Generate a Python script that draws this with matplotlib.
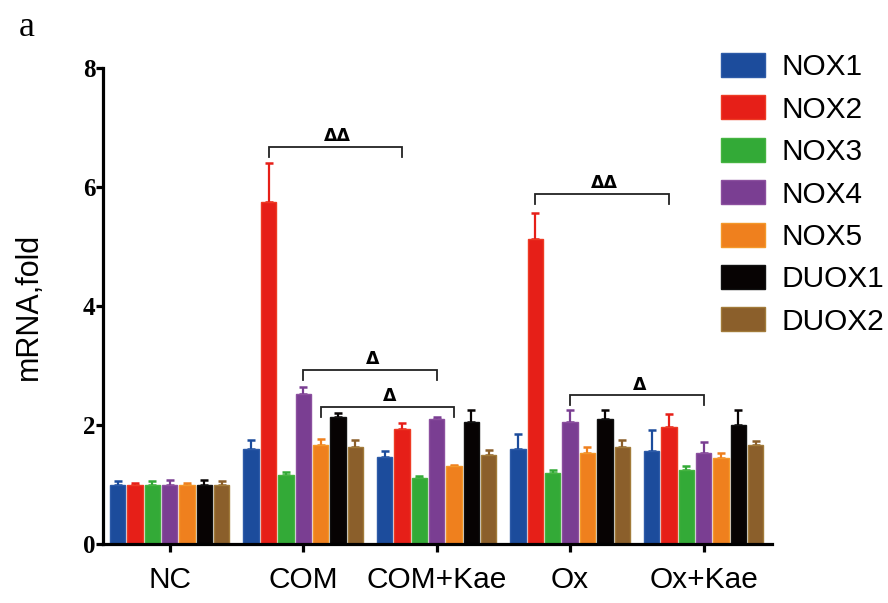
#!/usr/bin/env python3

import numpy as np
import matplotlib
matplotlib.use("Agg")
import matplotlib.pyplot as plt
from matplotlib.patches import Patch


######################## data ##############################

groups = ["NC", "COM", "COM+Kae", "Ox", "Ox+Kae"]
genes = ["NOX1", "NOX2", "NOX3", "NOX4", "NOX5", "DUOX1", "DUOX2"]

nox1 = [1.00, 1.60, 1.47, 1.60, 1.57]
nox2 = [1.00, 5.74, 1.93, 5.12, 1.96]
nox3 = [1.00, 1.16, 1.12, 1.20, 1.24]
nox4 = [1.00, 2.53, 2.10, 2.06, 1.54]
nox5 = [1.00, 1.66, 1.31, 1.54, 1.44]
duox1 = [1.00, 2.13, 2.06, 2.10, 2.00]
duox2 = [1.00, 1.64, 1.49, 1.64, 1.66]

nox1_err = [0.06, 0.15, 0.09, 0.25, 0.35]
nox2_err = [0.03, 0.66, 0.10, 0.45, 0.23]
nox3_err = [0.06, 0.05, 0.02, 0.05, 0.07]
nox4_err = [0.07, 0.11, 0.04, 0.19, 0.18]
nox5_err = [0.02, 0.11, 0.02, 0.10, 0.10]
duox1_err = [0.07, 0.07, 0.20, 0.15, 0.25]
duox2_err = [0.06, 0.11, 0.10, 0.11, 0.07]

means = [nox1, nox2, nox3, nox4, nox5, duox1, duox2]
errs = [nox1_err, nox2_err, nox3_err, nox4_err, nox5_err, duox1_err, duox2_err]

# significance brackets: (group a, group b, gene index, bracket height, label)
brackets = [
    (1, 2, 1, 6.67, "ΔΔ"),
    (1, 2, 3, 2.93, "Δ"),
    (1, 2, 4, 2.31, "Δ"),
    (3, 4, 1, 5.88, "ΔΔ"),
    (3, 4, 3, 2.50, "Δ"),
]


######################## style ##############################

face = ["#1c4c9c", "#e61f18", "#33aa37", "#7a3e92", "#ef801e", "#070303", "#8b5f2b"]
edge = ["#2d5ba8", "#ee3b24", "#45b441", "#8c509f", "#f4982a", "#111111", "#a27b3a"]

pitch = 0.13
width = 0.115

fig = plt.figure(figsize=(8.88, 6.03), dpi=100)
ax = fig.add_axes([0.116, 0.0975, 0.753, 0.79])

x = np.arange(len(groups))
for i in range(len(genes)):
    pos = x + (i - 3) * pitch
    ax.bar(pos, means[i], width, color=face[i], edgecolor=edge[i], linewidth=1.0,
           zorder=2)
    ax.errorbar(pos, means[i], yerr=[np.zeros(len(groups)), errs[i]], fmt="none",
                ecolor=face[i], elinewidth=1.6, capsize=3.2, capthick=1.8, zorder=1)

for ga, gb, gi, h, lab in brackets:
    xa = ga + (gi - 3) * pitch
    xb = gb + (gi - 3) * pitch
    ax.plot([xa, xa, xb, xb], [h - 0.17, h, h, h - 0.17], color="#222222",
            linewidth=1.3, solid_joinstyle="miter", zorder=3)
    ax.text((xa + xb) / 2 + 0.02, h + 0.03, lab, ha="center", va="bottom",
            fontsize=12.5, fontweight="bold", family="DejaVu Sans")

ax.set_xlim(-0.5, 4.51)
ax.set_ylim(0, 8)
ax.set_yticks([0, 2, 4, 6, 8])
ax.set_xticks(x)
ax.set_xticklabels(groups, fontsize=21.5, family="Liberation Sans")
for t in ax.get_yticklabels():
    t.set_family("Liberation Serif")
    t.set_fontweight("bold")
    t.set_fontsize(18)

ax.spines["top"].set_visible(False)
ax.spines["right"].set_visible(False)
ax.spines["left"].set_linewidth(2.3)
ax.spines["bottom"].set_linewidth(2.3)
ax.tick_params(axis="y", direction="out", length=5, width=2.3, pad=0.5)
ax.tick_params(axis="x", direction="out", length=6, width=2.3, pad=10)

ax.set_ylabel("mRNA,fold", fontsize=22, family="Liberation Sans")
ax.yaxis.set_label_coords(-0.088, 0.5)

handles = [Patch(facecolor=face[i], edgecolor=edge[i], linewidth=1.0, label=genes[i])
           for i in range(len(genes))]
leg = fig.legend(handles=handles, loc="upper left", bbox_to_anchor=(0.812, 0.912),
                 frameon=False, prop={"family": "Liberation Sans", "size": 21.5},
                 handlelength=1.48, handleheight=0.86, handletextpad=0.55,
                 labelspacing=0.47, borderpad=0, borderaxespad=0)

fig.text(0.021, 0.955, "a", fontsize=26, family="Liberation Serif", va="center")

plt.savefig("out.png", dpi=100)
